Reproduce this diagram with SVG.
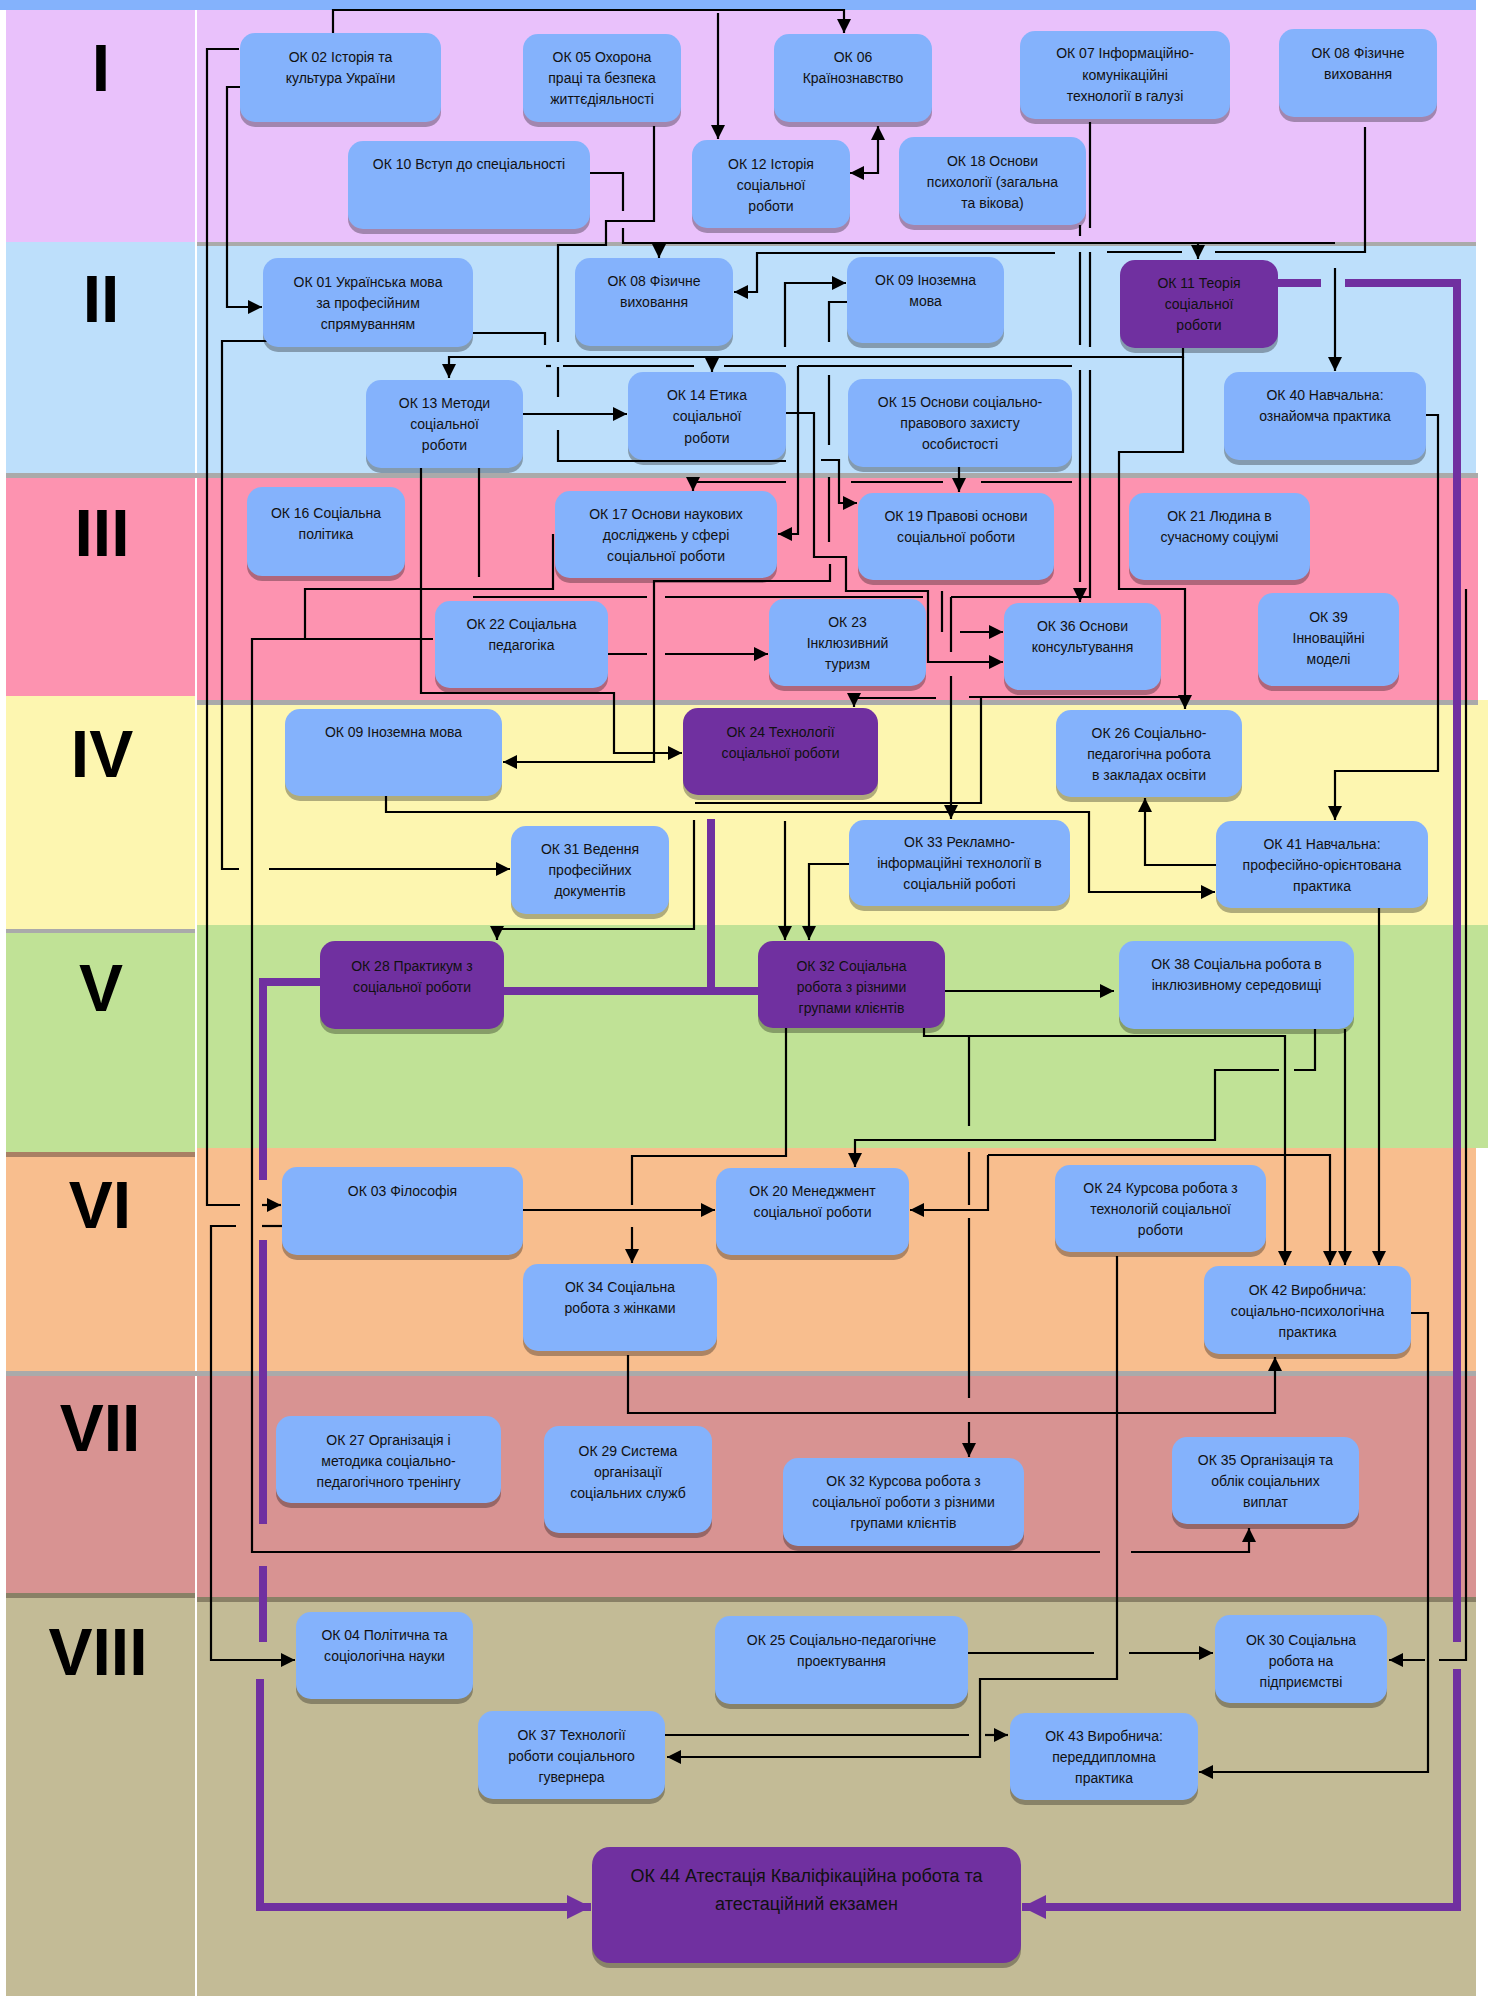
<svg xmlns="http://www.w3.org/2000/svg" width="1488" height="1996" viewBox="0 0 1488 1996">
<style>
.n{fill:#84b2fc}.p{fill:#7030a0}.s{fill:#000;opacity:.3}
.t{font-family:"Liberation Sans",Arial,sans-serif;font-size:14px;fill:#111;text-anchor:middle}
.big{font-size:18px}
.r{font-family:"Liberation Sans",Arial,sans-serif;font-size:66px;font-weight:bold;fill:#000;text-anchor:middle}
.c{fill:none;stroke:#000;stroke-width:2.2}
.c.a{marker-end:url(#ah)}
.pc{fill:none;stroke:#7030a0;stroke-width:8}
</style>
<defs>
<marker id="ah" markerUnits="userSpaceOnUse" markerWidth="14" markerHeight="14" viewBox="0 0 10 10" refX="10" refY="5" orient="auto"><path d="M0,0 L10,5 L0,10 z" fill="#000"/></marker>
<marker id="ah2" markerUnits="userSpaceOnUse" markerWidth="14" markerHeight="14" viewBox="0 0 10 10" refX="10" refY="5" orient="auto-start-reverse"><path d="M0,0 L10,5 L0,10 z" fill="#000"/></marker>
<marker id="ph" markerUnits="userSpaceOnUse" markerWidth="24" markerHeight="24" viewBox="0 0 10 10" refX="10" refY="5" orient="auto"><path d="M0,0 L10,5 L0,10 z" fill="#7030a0"/></marker>
</defs>
<rect x="0" y="0" width="1488" height="1996" fill="#fff"/>
<g id="bands">
<rect x="0" y="0" width="1476" height="10" fill="#84b2fc"/>
<rect x="6" y="10" width="189" height="232" fill="#e9c1fb"/>
<rect x="6" y="242" width="189" height="233" fill="#bddffb"/>
<rect x="6" y="478" width="189" height="218" fill="#fd93b0"/>
<rect x="6" y="696" width="189" height="233" fill="#fdf6b0"/>
<rect x="6" y="932" width="189" height="220" fill="#c0e296"/>
<rect x="6" y="1156" width="189" height="215" fill="#f8be8e"/>
<rect x="6" y="1376" width="189" height="217" fill="#d89392"/>
<rect x="6" y="1598" width="189" height="398" fill="#c3bb96"/>
<rect x="197" y="10" width="1279" height="233" fill="#e9c1fb"/>
<rect x="197" y="243" width="1279" height="232" fill="#bddffb"/>
<rect x="197" y="478" width="1281" height="222" fill="#fd93b0"/>
<rect x="197" y="700" width="1291" height="225" fill="#fdf6b0"/>
<rect x="197" y="925" width="1291" height="223" fill="#c0e296"/>
<rect x="197" y="1148" width="1279" height="223" fill="#f8be8e"/>
<rect x="197" y="1376" width="1279" height="221" fill="#d89392"/>
<rect x="197" y="1602" width="1279" height="394" fill="#c3bb96"/>
<rect x="197" y="242" width="1279" height="4" fill="#aaa"/>
<rect x="6" y="473" width="1472" height="5" fill="#aaa"/>
<rect x="197" y="700" width="1281" height="5" fill="#aaa"/>
<rect x="6" y="929" width="189" height="4" fill="#aaa"/>
<rect x="6" y="1152" width="189" height="5" fill="#a98064"/>
<rect x="6" y="1371" width="1470" height="5" fill="#aaa"/>
<rect x="6" y="1593" width="189" height="5" fill="#898066"/>
<rect x="197" y="1597" width="1279" height="5" fill="#898066"/>
<text class="r" x="101" y="91">I</text>
<text class="r" x="101" y="322">II</text>
<text class="r" x="102" y="556">III</text>
<text class="r" x="102" y="777">IV</text>
<text class="r" x="101" y="1011">V</text>
<text class="r" x="100" y="1228">VI</text>
<text class="r" x="100" y="1451">VII</text>
<text class="r" x="98" y="1675">VIII</text>
</g>
<g id="connectors">
<path class="c a" d="M333,33 V10 H844 V33"/>
<path class="c a" d="M718,13 V139"/>
<path class="c" d="M239,49 H207 V1205 H240"/>
<path class="c a" d="M262,1205 H281"/>
<path class="c a" d="M240,87 H227 V307 H262"/>
<path class="c" d="M269,341 H222 V869 H239"/>
<path class="c a" d="M269,869 H510"/>
<path class="c" d="M282,1226 H262"/>
<path class="c a" d="M236,1226 H211 V1660 H295"/>
<path class="c" d="M433,639 H252 V1552 H1100"/>
<path class="c a" d="M1131,1552 H1249 V1528"/>
<path class="c" d="M305,639 V589 H553 V534"/>
<path class="c" d="M654,126 V221 H606 V245 H558 V342"/>
<path class="c" d="M558,367 V397"/>
<path class="c" d="M558,430 V461 H786"/>
<path class="c" d="M590,173 H623 V211"/>
<path class="c" d="M623,228 V243 H1335"/>
<path class="c a" d="M1335,268 V371"/>
<path class="c a" d="M659,243 V258"/>
<path class="c a" d="M1198,242 V259"/>
<path class="c" d="M850,173 H878 V126" marker-start="url(#ah2)" marker-end="url(#ah2)"/>
<path class="c" d="M1365,127 V252 H1215"/>
<path class="c" d="M1182,252 H1107"/>
<path class="c a" d="M1055,253 H757 V292 H734"/>
<path class="c" d="M847,302 H829 V342"/>
<path class="c" d="M829,375 V445"/>
<path class="c" d="M829,477 V542"/>
<path class="c a" d="M830,564 V581 H654 V762 H503"/>
<path class="c a" d="M785,347 V283 H846"/>
<path class="c a" d="M1183,348 V357 H449 V378"/>
<path class="c a" d="M712,357 V372"/>
<path class="c a" d="M1183,357 V452 H1119 V589 H1185 V709"/>
<path class="c" d="M473,333 H545 V345"/>
<path class="c" d="M546,366 H551"/>
<path class="c" d="M563,366 H694"/>
<path class="c" d="M724,366 H786"/>
<path class="c" d="M798,366 H1072"/>
<path class="c a" d="M798,366 V534 H778"/>
<path class="c a" d="M523,414 H627"/>
<path class="c a" d="M786,413 H814 V557 H846 V591 H928 V662 H1003"/>
<path class="c" d="M942,591 V632"/>
<path class="c a" d="M960,632 H1003"/>
<path class="c" d="M694,482 H786"/>
<path class="c a" d="M693,481 V491"/>
<path class="c" d="M851,482 H943"/>
<path class="c" d="M981,482 H1072"/>
<path class="c a" d="M959,467 V492"/>
<path class="c a" d="M821,460 H839 V503 H857"/>
<path class="c" d="M1090,122 V228"/>
<path class="c" d="M1090,252 V347"/>
<path class="c" d="M1090,370 V597 H951"/>
<path class="c" d="M951,597 V652"/>
<path class="c a" d="M951,676 V819"/>
<path class="c" d="M923,597 H665"/>
<path class="c" d="M647,597 H473"/>
<path class="c" d="M479,468 V577"/>
<path class="c" d="M1080,225 V236"/>
<path class="c" d="M1080,252 V345"/>
<path class="c" d="M1080,370 V582"/>
<path class="c a" d="M1080,590 V602"/>
<path class="c a" d="M421,468 V693 H614 V753 H682"/>
<path class="c" d="M608,654 H647"/>
<path class="c a" d="M665,654 H768"/>
<path class="c a" d="M936,698 H854 V707"/>
<path class="c" d="M969,697 H1185"/>
<path class="c" d="M981,697 V803 H695"/>
<path class="c a" d="M694,820 V929 H497 V940"/>
<path class="c a" d="M386,796 V812 H1089 V892 H1215"/>
<path class="c a" d="M849,864 H809 V940"/>
<path class="c a" d="M785,821 V940"/>
<path class="c a" d="M945,991 H1114"/>
<path class="c a" d="M1426,415 H1438 V771 H1335 V820"/>
<path class="c a" d="M1216,865 H1145 V798"/>
<path class="c a" d="M1379,908 V1265"/>
<path class="c a" d="M1345,1029 V1265"/>
<path class="c a" d="M924,1028 V1036 H1285 V1265"/>
<path class="c" d="M969,1036 V1126"/>
<path class="c" d="M969,1152 V1205"/>
<path class="c" d="M969,1218 V1398"/>
<path class="c a" d="M969,1422 V1457"/>
<path class="c" d="M1315,1029 V1070 H1294"/>
<path class="c a" d="M1279,1070 H1215 V1140 H855 V1167"/>
<path class="c a" d="M988,1155 V1210 H910"/>
<path class="c a" d="M988,1155 H1330 V1265"/>
<path class="c" d="M786,1028 V1156 H632 V1205"/>
<path class="c a" d="M632,1227 V1263"/>
<path class="c a" d="M523,1210 H715"/>
<path class="c a" d="M628,1355 V1413 H1275 V1357"/>
<path class="c a" d="M1117,1256 V1679 H980 V1757 H667"/>
<path class="c" d="M968,1653 H1094"/>
<path class="c a" d="M1129,1653 H1213"/>
<path class="c" d="M665,1735 H969"/>
<path class="c a" d="M985,1735 H1008"/>
<path class="c a" d="M1411,1313 H1428 V1772 H1199"/>
<path class="c" d="M1466,589 V1660 H1439"/>
<path class="c a" d="M1425,1660 H1389"/>
<path class="pc" d="M1278,283 H1321"/>
<path class="pc" d="M1345,283 H1457 V1642"/>
<path class="pc" d="M1457,1669 V1907 H1022" marker-end="url(#ph)"/>
<path class="pc" d="M711,819 V991"/>
<path class="pc" d="M504,991 H758"/>
<path class="pc" d="M320,982 H263 V1180"/>
<path class="pc" d="M263,1240 V1524"/>
<path class="pc" d="M263,1566 V1642"/>
<path class="pc" d="M260,1679 V1907 H591" marker-end="url(#ph)"/>
</g>
<g id="ok02"><rect class="s" x="240" y="38" width="201" height="89" rx="15"/><rect class="n" x="240" y="33" width="201" height="89" rx="15"/><text class="t"><tspan x="340.5" y="62">ОК 02 Історія та</tspan><tspan x="340.5" y="83">культура України</tspan></text></g>
<g id="ok05"><rect class="s" x="523" y="39" width="158" height="88" rx="15"/><rect class="n" x="523" y="34" width="158" height="88" rx="15"/><text class="t"><tspan x="602" y="62">ОК 05 Охорона</tspan><tspan x="602" y="83">праці та безпека</tspan><tspan x="602" y="104">життєдіяльності</tspan></text></g>
<g id="ok06"><rect class="s" x="774" y="39" width="158" height="88" rx="15"/><rect class="n" x="774" y="34" width="158" height="88" rx="15"/><text class="t"><tspan x="853" y="62">ОК 06</tspan><tspan x="853" y="83">Країнознавство</tspan></text></g>
<g id="ok07"><rect class="s" x="1020" y="36" width="210" height="88" rx="15"/><rect class="n" x="1020" y="31" width="210" height="88" rx="15"/><text class="t"><tspan x="1125" y="58">ОК 07 Інформаційно-</tspan><tspan x="1125" y="80">комунікаційні</tspan><tspan x="1125" y="101">технології в галузі</tspan></text></g>
<g id="ok08a"><rect class="s" x="1279" y="34" width="158" height="88" rx="15"/><rect class="n" x="1279" y="29" width="158" height="88" rx="15"/><text class="t"><tspan x="1358" y="58">ОК 08 Фізичне</tspan><tspan x="1358" y="79">виховання</tspan></text></g>
<g id="ok10"><rect class="s" x="348" y="146" width="242" height="88" rx="15"/><rect class="n" x="348" y="141" width="242" height="88" rx="15"/><text class="t"><tspan x="469" y="169">ОК 10 Вступ до спеціальності</tspan></text></g>
<g id="ok12"><rect class="s" x="692" y="145" width="158" height="88" rx="15"/><rect class="n" x="692" y="140" width="158" height="88" rx="15"/><text class="t"><tspan x="771" y="169">ОК 12 Історія</tspan><tspan x="771" y="190">соціальної</tspan><tspan x="771" y="211">роботи</tspan></text></g>
<g id="ok18"><rect class="s" x="899" y="142" width="187" height="88" rx="15"/><rect class="n" x="899" y="137" width="187" height="88" rx="15"/><text class="t"><tspan x="992.5" y="166">ОК 18 Основи</tspan><tspan x="992.5" y="187">психології (загальна</tspan><tspan x="992.5" y="208">та вікова)</tspan></text></g>
<g id="ok01"><rect class="s" x="263" y="263" width="210" height="89" rx="15"/><rect class="n" x="263" y="258" width="210" height="89" rx="15"/><text class="t"><tspan x="368" y="287">ОК 01 Українська мова</tspan><tspan x="368" y="308">за професійним</tspan><tspan x="368" y="329">спрямуванням</tspan></text></g>
<g id="ok08b"><rect class="s" x="575" y="263" width="158" height="88" rx="15"/><rect class="n" x="575" y="258" width="158" height="88" rx="15"/><text class="t"><tspan x="654" y="286">ОК 08 Фізичне</tspan><tspan x="654" y="307">виховання</tspan></text></g>
<g id="ok09a"><rect class="s" x="847" y="262" width="157" height="86" rx="15"/><rect class="n" x="847" y="257" width="157" height="86" rx="15"/><text class="t"><tspan x="925.5" y="285">ОК 09 Іноземна</tspan><tspan x="925.5" y="306">мова</tspan></text></g>
<g id="ok11"><rect class="s" x="1120" y="265" width="158" height="88" rx="15"/><rect class="p" x="1120" y="260" width="158" height="88" rx="15"/><text class="t"><tspan x="1199" y="288">ОК 11 Теорія</tspan><tspan x="1199" y="309">соціальної</tspan><tspan x="1199" y="330">роботи</tspan></text></g>
<g id="ok13"><rect class="s" x="366" y="385" width="157" height="88" rx="15"/><rect class="n" x="366" y="380" width="157" height="88" rx="15"/><text class="t"><tspan x="444.5" y="408">ОК 13 Методи</tspan><tspan x="444.5" y="429">соціальної</tspan><tspan x="444.5" y="450">роботи</tspan></text></g>
<g id="ok14"><rect class="s" x="628" y="377" width="158" height="88" rx="15"/><rect class="n" x="628" y="372" width="158" height="88" rx="15"/><text class="t"><tspan x="707" y="400">ОК 14 Етика</tspan><tspan x="707" y="421">соціальної</tspan><tspan x="707" y="443">роботи</tspan></text></g>
<g id="ok15"><rect class="s" x="848" y="384" width="224" height="88" rx="15"/><rect class="n" x="848" y="379" width="224" height="88" rx="15"/><text class="t"><tspan x="960" y="407">ОК 15 Основи соціально-</tspan><tspan x="960" y="428">правового захисту</tspan><tspan x="960" y="449">особистості</tspan></text></g>
<g id="ok40"><rect class="s" x="1224" y="377" width="202" height="88" rx="15"/><rect class="n" x="1224" y="372" width="202" height="88" rx="15"/><text class="t"><tspan x="1325" y="400">ОК 40 Навчальна:</tspan><tspan x="1325" y="421">ознайомча практика</tspan></text></g>
<g id="ok16"><rect class="s" x="247" y="492" width="158" height="89" rx="15"/><rect class="n" x="247" y="487" width="158" height="89" rx="15"/><text class="t"><tspan x="326" y="518">ОК 16 Соціальна</tspan><tspan x="326" y="539">політика</tspan></text></g>
<g id="ok17"><rect class="s" x="555" y="496" width="222" height="87" rx="15"/><rect class="n" x="555" y="491" width="222" height="87" rx="15"/><text class="t"><tspan x="666" y="519">ОК 17 Основи наукових</tspan><tspan x="666" y="540">досліджень у сфері</tspan><tspan x="666" y="561">соціальної роботи</tspan></text></g>
<g id="ok19"><rect class="s" x="858" y="498" width="196" height="87" rx="15"/><rect class="n" x="858" y="493" width="196" height="87" rx="15"/><text class="t"><tspan x="956" y="521">ОК 19 Правові основи</tspan><tspan x="956" y="542">соціальної роботи</tspan></text></g>
<g id="ok21"><rect class="s" x="1129" y="498" width="181" height="87" rx="15"/><rect class="n" x="1129" y="493" width="181" height="87" rx="15"/><text class="t"><tspan x="1219.5" y="521">ОК 21 Людина в</tspan><tspan x="1219.5" y="542">сучасному соціумі</tspan></text></g>
<g id="ok22"><rect class="s" x="435" y="606" width="173" height="87" rx="15"/><rect class="n" x="435" y="601" width="173" height="87" rx="15"/><text class="t"><tspan x="521.5" y="629">ОК 22 Соціальна</tspan><tspan x="521.5" y="650">педагогіка</tspan></text></g>
<g id="ok23"><rect class="s" x="769" y="604" width="157" height="87" rx="15"/><rect class="n" x="769" y="599" width="157" height="87" rx="15"/><text class="t"><tspan x="847.5" y="627">ОК 23</tspan><tspan x="847.5" y="648">Інклюзивний</tspan><tspan x="847.5" y="669">туризм</tspan></text></g>
<g id="ok36"><rect class="s" x="1004" y="608" width="157" height="87" rx="15"/><rect class="n" x="1004" y="603" width="157" height="87" rx="15"/><text class="t"><tspan x="1082.5" y="631">ОК 36 Основи</tspan><tspan x="1082.5" y="652">консультування</tspan></text></g>
<g id="ok39"><rect class="s" x="1258" y="598" width="141" height="93" rx="15"/><rect class="n" x="1258" y="593" width="141" height="93" rx="15"/><text class="t"><tspan x="1328.5" y="622">ОК 39</tspan><tspan x="1328.5" y="643">Інноваційні</tspan><tspan x="1328.5" y="664">моделі</tspan></text></g>
<g id="ok09b"><rect class="s" x="285" y="714" width="217" height="87" rx="15"/><rect class="n" x="285" y="709" width="217" height="87" rx="15"/><text class="t"><tspan x="393.5" y="737">ОК 09 Іноземна мова</tspan></text></g>
<g id="ok24"><rect class="s" x="683" y="713" width="195" height="87" rx="15"/><rect class="p" x="683" y="708" width="195" height="87" rx="15"/><text class="t"><tspan x="780.5" y="737">ОК 24 Технології</tspan><tspan x="780.5" y="758">соціальної роботи</tspan></text></g>
<g id="ok26"><rect class="s" x="1056" y="715" width="186" height="87" rx="15"/><rect class="n" x="1056" y="710" width="186" height="87" rx="15"/><text class="t"><tspan x="1149" y="738">ОК 26 Соціально-</tspan><tspan x="1149" y="759">педагогічна робота</tspan><tspan x="1149" y="780">в закладах освіти</tspan></text></g>
<g id="ok31"><rect class="s" x="511" y="831" width="158" height="88" rx="15"/><rect class="n" x="511" y="826" width="158" height="88" rx="15"/><text class="t"><tspan x="590" y="854">ОК 31 Ведення</tspan><tspan x="590" y="875">професійних</tspan><tspan x="590" y="896">документів</tspan></text></g>
<g id="ok33"><rect class="s" x="849" y="825" width="221" height="86" rx="15"/><rect class="n" x="849" y="820" width="221" height="86" rx="15"/><text class="t"><tspan x="959.5" y="847">ОК 33 Рекламно-</tspan><tspan x="959.5" y="868">інформаційні технології в</tspan><tspan x="959.5" y="889">соціальній роботі</tspan></text></g>
<g id="ok41"><rect class="s" x="1216" y="826" width="212" height="87" rx="15"/><rect class="n" x="1216" y="821" width="212" height="87" rx="15"/><text class="t"><tspan x="1322" y="849">ОК 41 Навчальна:</tspan><tspan x="1322" y="870">професійно-орієнтована</tspan><tspan x="1322" y="891">практика</tspan></text></g>
<g id="ok28"><rect class="s" x="320" y="946" width="184" height="88" rx="15"/><rect class="p" x="320" y="941" width="184" height="88" rx="15"/><text class="t"><tspan x="412" y="971">ОК 28 Практикум з</tspan><tspan x="412" y="992">соціальної роботи</tspan></text></g>
<g id="ok32"><rect class="s" x="758" y="946" width="187" height="87" rx="15"/><rect class="p" x="758" y="941" width="187" height="87" rx="15"/><text class="t"><tspan x="851.5" y="971">ОК 32 Соціальна</tspan><tspan x="851.5" y="992">робота з різними</tspan><tspan x="851.5" y="1013">групами клієнтів</tspan></text></g>
<g id="ok38"><rect class="s" x="1119" y="946" width="235" height="88" rx="15"/><rect class="n" x="1119" y="941" width="235" height="88" rx="15"/><text class="t"><tspan x="1236.5" y="969">ОК 38 Соціальна робота в</tspan><tspan x="1236.5" y="990">інклюзивному середовищі</tspan></text></g>
<g id="ok03"><rect class="s" x="282" y="1172" width="241" height="88" rx="15"/><rect class="n" x="282" y="1167" width="241" height="88" rx="15"/><text class="t"><tspan x="402.5" y="1196">ОК 03 Філософія</tspan></text></g>
<g id="ok20"><rect class="s" x="716" y="1173" width="193" height="87" rx="15"/><rect class="n" x="716" y="1168" width="193" height="87" rx="15"/><text class="t"><tspan x="812.5" y="1196">ОК 20 Менеджмент</tspan><tspan x="812.5" y="1217">соціальної роботи</tspan></text></g>
<g id="ok24k"><rect class="s" x="1055" y="1170" width="211" height="87" rx="15"/><rect class="n" x="1055" y="1165" width="211" height="87" rx="15"/><text class="t"><tspan x="1160.5" y="1193">ОК 24 Курсова робота з</tspan><tspan x="1160.5" y="1214">технологій соціальної</tspan><tspan x="1160.5" y="1235">роботи</tspan></text></g>
<g id="ok34"><rect class="s" x="523" y="1269" width="194" height="87" rx="15"/><rect class="n" x="523" y="1264" width="194" height="87" rx="15"/><text class="t"><tspan x="620" y="1292">ОК 34 Соціальна</tspan><tspan x="620" y="1313">робота з жінками</tspan></text></g>
<g id="ok42"><rect class="s" x="1204" y="1271" width="207" height="88" rx="15"/><rect class="n" x="1204" y="1266" width="207" height="88" rx="15"/><text class="t"><tspan x="1307.5" y="1295">ОК 42 Виробнича:</tspan><tspan x="1307.5" y="1316">соціально-психологічна</tspan><tspan x="1307.5" y="1337">практика</tspan></text></g>
<g id="ok27"><rect class="s" x="276" y="1421" width="225" height="87" rx="15"/><rect class="n" x="276" y="1416" width="225" height="87" rx="15"/><text class="t"><tspan x="388.5" y="1445">ОК 27 Організація і</tspan><tspan x="388.5" y="1466">методика соціально-</tspan><tspan x="388.5" y="1487">педагогічного тренінгу</tspan></text></g>
<g id="ok29"><rect class="s" x="544" y="1431" width="168" height="107" rx="15"/><rect class="n" x="544" y="1426" width="168" height="107" rx="15"/><text class="t"><tspan x="628" y="1456">ОК 29 Система</tspan><tspan x="628" y="1477">організації</tspan><tspan x="628" y="1498">соціальних служб</tspan></text></g>
<g id="ok32k"><rect class="s" x="783" y="1463" width="241" height="88" rx="15"/><rect class="n" x="783" y="1458" width="241" height="88" rx="15"/><text class="t"><tspan x="903.5" y="1486">ОК 32 Курсова робота з</tspan><tspan x="903.5" y="1507">соціальної роботи з різними</tspan><tspan x="903.5" y="1528">групами клієнтів</tspan></text></g>
<g id="ok35"><rect class="s" x="1172" y="1442" width="187" height="87" rx="15"/><rect class="n" x="1172" y="1437" width="187" height="87" rx="15"/><text class="t"><tspan x="1265.5" y="1465">ОК 35 Організація та</tspan><tspan x="1265.5" y="1486">облік соціальних</tspan><tspan x="1265.5" y="1507">виплат</tspan></text></g>
<g id="ok04"><rect class="s" x="296" y="1617" width="177" height="87" rx="15"/><rect class="n" x="296" y="1612" width="177" height="87" rx="15"/><text class="t"><tspan x="384.5" y="1640">ОК 04 Політична та</tspan><tspan x="384.5" y="1661">соціологічна науки</tspan></text></g>
<g id="ok25"><rect class="s" x="715" y="1621" width="253" height="88" rx="15"/><rect class="n" x="715" y="1616" width="253" height="88" rx="15"/><text class="t"><tspan x="841.5" y="1645">ОК 25 Соціально-педагогічне</tspan><tspan x="841.5" y="1666">проектування</tspan></text></g>
<g id="ok30"><rect class="s" x="1215" y="1620" width="172" height="88" rx="15"/><rect class="n" x="1215" y="1615" width="172" height="88" rx="15"/><text class="t"><tspan x="1301" y="1645">ОК 30 Соціальна</tspan><tspan x="1301" y="1666">робота на</tspan><tspan x="1301" y="1687">підприємстві</tspan></text></g>
<g id="ok37"><rect class="s" x="478" y="1716" width="187" height="88" rx="15"/><rect class="n" x="478" y="1711" width="187" height="88" rx="15"/><text class="t"><tspan x="571.5" y="1740">ОК 37 Технології</tspan><tspan x="571.5" y="1761">роботи соціального</tspan><tspan x="571.5" y="1782">гувернера</tspan></text></g>
<g id="ok43"><rect class="s" x="1010" y="1718" width="188" height="87" rx="15"/><rect class="n" x="1010" y="1713" width="188" height="87" rx="15"/><text class="t"><tspan x="1104" y="1741">ОК 43 Виробнича:</tspan><tspan x="1104" y="1762">переддипломна</tspan><tspan x="1104" y="1783">практика</tspan></text></g>
<g id="ok44"><rect class="s" x="592" y="1852" width="429" height="116" rx="18"/><rect class="p" x="592" y="1847" width="429" height="116" rx="18"/><text class="t big"><tspan x="806.5" y="1882">ОК 44 Атестація Кваліфікаційна робота та</tspan><tspan x="806.5" y="1910">атестаційний екзамен</tspan></text></g>
</svg>
